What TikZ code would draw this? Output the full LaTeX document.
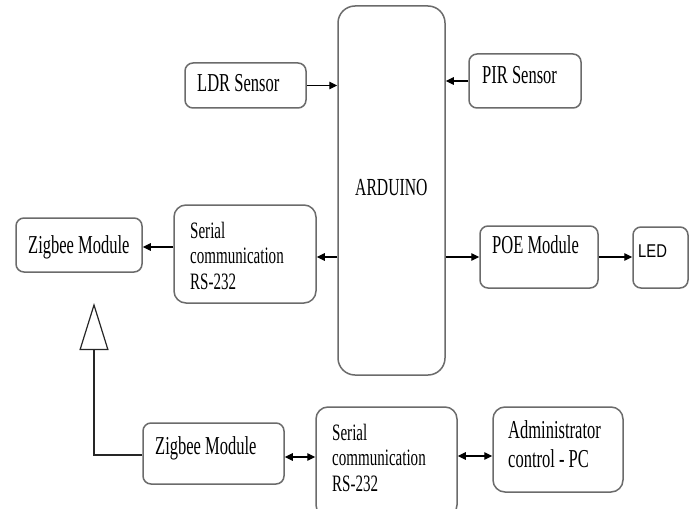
\documentclass[tikz,border=0pt]{standalone}
\usepackage{fontspec}
\setmainfont{Liberation Serif}[FakeStretch=0.64]
\newfontfamily\ledfont{Liberation Sans}[FakeStretch=0.8]
\usetikzlibrary{arrows.meta,calc}
\begin{document}
\begin{tikzpicture}[x=1pt,y=-1pt,
  blk/.style={draw=black!58, line width=1.5pt, rounded corners=8pt, inner sep=0pt, fill=none},
  txt/.style={inner sep=0pt, anchor=base west, text=black, font=\fontsize{25.8}{26}\selectfont},
  stxt/.style={inner sep=0pt, anchor=base west, text=black, font=\fontsize{23.5}{25.5}\selectfont},
  conn/.style={draw=black, line width=1.2pt, -{Triangle[length=8pt,width=7.5pt]}},
  dconn/.style={draw=black, line width=1.2pt, {Triangle[length=8pt,width=7.5pt]}-{Triangle[length=8pt,width=7.5pt]}},
  openarr/.style={draw=black!85, line width=1.2pt, -{Triangle[open,length=47pt,width=29pt,line width=1.2pt]}}
]
\useasboundingbox (0,0) rectangle (695,508);
\fill[white] (0,0) rectangle (695,508);
% boxes
\node[blk, minimum width=121pt, minimum height=45pt] (ldr) at (245.5,85.5) {};
\node[blk, minimum width=112pt, minimum height=54pt] (pir) at (525,81) {};
\node[blk, rounded corners=17pt, minimum width=107pt, minimum height=369pt] (ard) at (391.5,190.5) {};
\node[blk, minimum width=126pt, minimum height=54pt] (zt) at (79,245) {};
\node[blk, rounded corners=12pt, minimum width=142pt, minimum height=98pt] (st) at (245,254) {};
\node[blk, minimum width=118pt, minimum height=62pt] (poe) at (539,257) {};
\node[blk, minimum width=55pt, minimum height=61pt] (led) at (660.5,257.5) {};
\node[blk, minimum width=141pt, minimum height=61pt] (zb) at (213.5,453.5) {};
\node[blk, rounded corners=12pt, minimum width=141pt, minimum height=110pt] (sb) at (386.5,462) {};
\node[blk, rounded corners=12pt, minimum width=130pt, minimum height=85pt] (ad) at (558,449.5) {};
% texts
\node[txt] (ldrt) at (197,92) {LDR Sensor};
\node[txt] (pirt) at (482,84) {PIR Sensor};
\node[txt, font=\fontsize{24.5}{26}\selectfont] (ardt) at (355,195) {ARDUINO};
\node[txt] (ztt) at (28,253) {Zigbee Module};
\node[stxt, align=left] (stt) at (190,289) {Serial\\communication\\RS-232};
\node[txt] (poet) at (492,253) {POE Module};
\node[inner sep=0pt, anchor=base west, font=\ledfont\fontsize{18.5}{20}\selectfont] (ledt) at (638,257) {LED};
\node[txt] (zbt) at (155,454) {Zigbee Module};
\node[stxt, align=left] (sbt) at (332,491) {Serial\\communication\\RS-232};
\node[txt, align=left, font=\fontsize{25.8}{29}\selectfont] (adt) at (508,467) {Administrator\\control - PC};
% connectors
\draw[conn] (ldr.east) -- (ldr.east -| ard.west);
\draw[conn] (pir.west) -- (pir.west -| ard.east);
\draw[conn] (ard.west |- 0,257) -- (st.east |- 0,257);
\draw[conn] (st.west |- 0,247) -- (zt.east |- 0,247);
\draw[conn] (ard.east |- poe.west) -- (poe.west);
\draw[conn] (poe.east) -- (led.west |- poe.east);
\draw[dconn] (zb.east |- 0,457) -- (sb.west |- 0,457);
\draw[dconn] (sb.east |- 0,456) -- (ad.west |- 0,456);
\coordinate (tip) at (94,303);
\draw[openarr] (zb.west |- 0,455) -| (tip);
\end{tikzpicture}
\end{document}
